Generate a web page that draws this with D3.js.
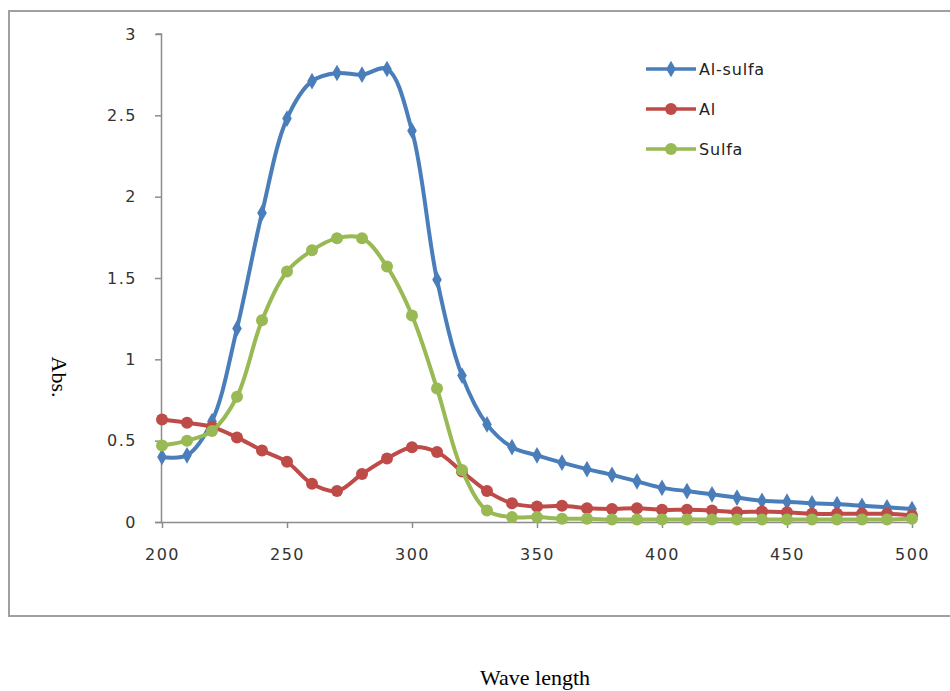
<!DOCTYPE html>
<html>
<head>
<meta charset="utf-8">
<script src="https://cdn.jsdelivr.net/npm/d3@7"></script>
<style>
    body { margin: 0; background: #fff; }
    svg { display: block; }
    .tick text { font-family: "DejaVu Sans", sans-serif; fill: #333; }
</style>
</head>
<body>
<div id="chart"></div>
<script>
// wavelengths (nm)
const wavelengths = d3.range(200, 501, 10);

const alSulfa = [0.40, 0.41, 0.62, 1.19, 1.90, 2.48, 2.71, 2.76, 2.75, 2.785, 2.405,
    1.49, 0.90, 0.60, 0.46, 0.41, 0.365, 0.325, 0.29, 0.25, 0.21, 0.19, 0.17, 0.15,
    0.13, 0.125, 0.115, 0.11, 0.10, 0.09, 0.08];
const al = [0.63, 0.61, 0.585, 0.52, 0.44, 0.37, 0.235, 0.19, 0.295, 0.39, 0.46,
    0.43, 0.31, 0.19, 0.115, 0.095, 0.10, 0.085, 0.08, 0.085, 0.075, 0.075, 0.07, 0.06,
    0.065, 0.06, 0.05, 0.05, 0.05, 0.05, 0.04];
const sulfa = [0.47, 0.50, 0.56, 0.77, 1.24, 1.54, 1.67, 1.745, 1.745, 1.57, 1.27,
    0.82, 0.32, 0.07, 0.03, 0.03, 0.02, 0.02, 0.015, 0.015, 0.015, 0.015, 0.015, 0.015,
    0.015, 0.015, 0.015, 0.015, 0.015, 0.015, 0.02];

const xTicks = [200, 250, 300, 350, 400, 450, 500];
const yTicks = [0, 0.5, 1, 1.5, 2, 2.5, 3];

const series = [
    { name: "Al-sulfa", values: alSulfa, color: "#4a7ebb", marker: "diamond" },
    { name: "Al", values: al, color: "#be4b48", marker: "circle" },
    { name: "Sulfa", values: sulfa, color: "#98b954", marker: "circle" }
];

const width = 950, height = 691;
const svg = d3.select("#chart").append("svg")
    .attr("width", width).attr("height", height);

// chart frame (right side runs off the picture)
svg.append("path")
    .attr("d", "M960,11 H9 V616 H960")
    .attr("fill", "none")
    .attr("stroke", "#a0a0a0")
    .attr("stroke-width", 2);

const x = d3.scaleLinear().domain([200, 500]).range([162, 912]);
const y = d3.scaleLinear().domain([0, 3]).range([522, 34]);

const gx = svg.append("g")
    .attr("transform", `translate(0,${y(0)})`)
    .call(d3.axisBottom(x).tickValues(xTicks).tickSize(6).tickPadding(21).tickFormat(d3.format("d")));
const gy = svg.append("g")
    .attr("transform", `translate(${x(200)},0)`)
    .call(d3.axisLeft(y).tickValues(yTicks).tickSize(7).tickPadding(18).tickFormat(d => String(d)));

[gx, gy].forEach(g => {
    g.selectAll("path, line").attr("stroke", "#8c8c8c").attr("stroke-width", 1.5);
    g.selectAll("text").style("font-size", "16px").style("letter-spacing", "1.5px");
});
gx.select(".domain").attr("d", `M${x(200) - 7},0.5H${x(500)}`);
gy.select(".domain").attr("d", `M-0.5,${y(0)}V${y(3)}H-6`);

const line = d3.line()
    .x((d, i) => x(wavelengths[i]))
    .y(d => y(d))
    .curve(d3.curveCatmullRom);

const diamond = d3.symbol().type(d3.symbolDiamond).size(80);

function drawMarker(g, s, cx, cy) {
    if (s.marker === "diamond") {
        g.append("path").attr("d", diamond())
            .attr("transform", `translate(${cx},${cy})`)
            .attr("fill", s.color);
    } else {
        g.append("circle").attr("cx", cx).attr("cy", cy).attr("r", 6)
            .attr("fill", s.color);
    }
}

series.forEach(s => {
    const g = svg.append("g");
    g.append("path")
        .datum(s.values)
        .attr("d", line)
        .attr("fill", "none")
        .attr("stroke", s.color)
        .attr("stroke-width", 4);
    s.values.forEach((v, i) => drawMarker(g, s, x(wavelengths[i]), y(v)));
});

// legend
series.forEach((s, i) => {
    const ly = 69 + i * 40;
    const g = svg.append("g");
    g.append("line").attr("x1", 646).attr("x2", 696).attr("y1", ly).attr("y2", ly)
        .attr("stroke", s.color).attr("stroke-width", 3.5);
    drawMarker(g, s, 671, ly);
    g.append("text").attr("x", 699).attr("y", ly).attr("dy", "0.35em")
        .style("font-family", "DejaVu Sans, sans-serif")
        .style("font-size", "16px")
        .style("letter-spacing", "0.8px")
        .attr("fill", "#222")
        .text(s.name);
});

// axis titles
svg.append("text")
    .attr("transform", "translate(52,377) rotate(90)")
    .attr("text-anchor", "middle")
    .style("font-family", "Liberation Serif, serif")
    .style("font-size", "22px")
    .text("Abs.");

svg.append("text")
    .attr("x", 535).attr("y", 685)
    .attr("text-anchor", "middle")
    .style("font-family", "Liberation Serif, serif")
    .style("font-size", "22px")
    .text("Wave length");
</script>
</body>
</html>
